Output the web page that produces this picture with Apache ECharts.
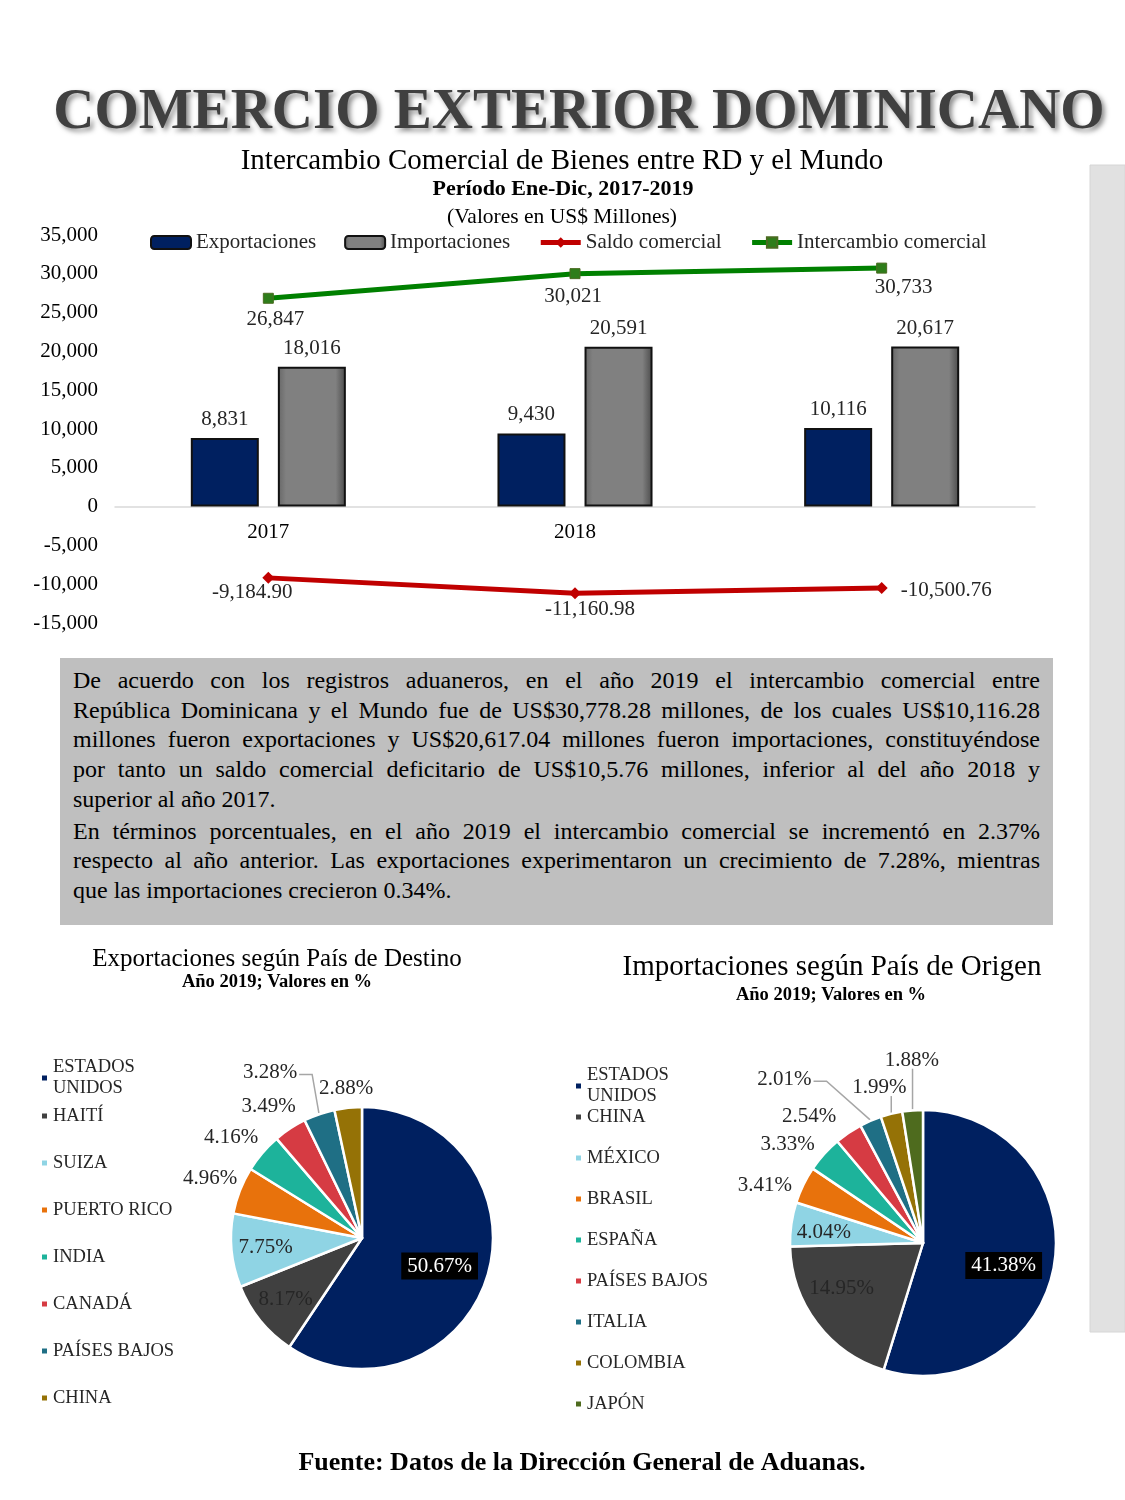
<!DOCTYPE html>
<html>
<head>
<meta charset="utf-8">
<script src="https://cdn.jsdelivr.net/npm/echarts@6/dist/echarts.min.js"></script>
<style>
html,body{margin:0;padding:0;background:#fff;}
#c{position:absolute;left:0;top:0;width:1125px;height:1500px;}
#txt{position:absolute;left:60px;top:658px;width:993px;height:267px;background:#bfbfbf;box-sizing:border-box;padding:8px 13px 0 13px;font-family:'Liberation Serif','Times New Roman',serif;font-size:24px;line-height:29.7px;color:#000;}
#txt .l{white-space:nowrap;text-align:justify;text-align-last:justify;}
#txt .e{white-space:nowrap;text-align:left;}
#txt .p2{margin-top:2px;}
</style>
</head>
<body>
<div id="c"></div>
<div id="txt">
<div class="l">De acuerdo con los registros aduaneros, en el año 2019 el intercambio comercial entre</div>
<div class="l">República Dominicana y el Mundo fue de US$30,778.28 millones, de los cuales US$10,116.28</div>
<div class="l">millones fueron exportaciones y US$20,617.04 millones fueron importaciones, constituyéndose</div>
<div class="l">por tanto un saldo comercial deficitario de US$10,5.76 millones, inferior al del año 2018 y</div>
<div class="e">superior al año 2017.</div>
<div class="l p2">En términos porcentuales, en el año 2019 el intercambio comercial se incrementó en 2.37%</div>
<div class="l">respecto al año anterior. Las exportaciones experimentaron un crecimiento de 7.28%, mientras</div>
<div class="e">que las importaciones crecieron 0.34%.</div>
</div>
<script>
// ---- Data ----
var years = ['2017', '2018', '2019'];
var exportaciones = [8831, 9430, 10116];
var importaciones = [18016, 20591, 20617];
var saldoComercial = [-9184.90, -11160.98, -10500.76];
var intercambioComercial = [26847, 30021, 30733];

var expCountries = ['ESTADOS UNIDOS', 'HAITÍ', 'SUIZA', 'PUERTO RICO', 'INDIA', 'CANADÁ', 'PAÍSES BAJOS', 'CHINA'];
var expShares = [50.67, 8.17, 7.75, 4.96, 4.16, 3.49, 3.28, 2.88];
var impCountries = ['ESTADOS UNIDOS', 'CHINA', 'MÉXICO', 'BRASIL', 'ESPAÑA', 'PAÍSES BAJOS', 'ITALIA', 'COLOMBIA', 'JAPÓN'];
var impShares = [41.38, 14.95, 4.04, 3.41, 3.33, 2.54, 2.01, 1.99, 1.88];

// ---- Styles / layout ----
var SERIF = "'Liberation Serif','Times New Roman',serif";
var sliceColors = ['#002060', '#404040', '#8fd4e4', '#e8720c', '#1db39b', '#d63b43', '#1f6f85', '#957206', '#4e6b1e'];
var fmtInt = function (v) { return Number(v).toLocaleString('en-US'); };
var fmt2 = function (v) { return Number(v).toLocaleString('en-US', {minimumFractionDigits: 2, maximumFractionDigits: 2}); };

// pie geometry and Excel-like label placement tweaks
// inside: [radius fraction, angle shift]; outside: [angle shift (deg), extra radial distance, leader line]
var pieGeom = {
  exp: {cx: 362, cy: 1238, r: 131, inside: [[0.63, 3], [0.75, 0], [0.74, 0]],
        adj: [null, null, null, [0, -3], [-3, 0], [-2, 0], [-10, 30, 1], [0, 0]]},
  imp: {cx: 923, cy: 1243, r: 133, inside: [[0.63, 7], [0.70, 8], [0.75, -2]],
        adj: [null, null, null, [-6, 0], [-6, 0], [-8, 5], [-17, 50, 1], [-2, 5, 1], [1, 32, 1]]}
};

var chart = echarts.init(document.getElementById('c'), null, {renderer: 'canvas'});

function pieData(names, vals, geom) {
  return names.map(function (n, i) {
    var item = {name: n, value: vals[i], itemStyle: {color: sliceColors[i]}};
    if (i === 0) {
      item.label = {position: 'inside', color: '#fff', backgroundColor: '#000', padding: [4, 6, 2, 6]};
    } else if (i < geom.inside.length) {
      item.label = {position: 'inside', color: '#262626'};
    } else {
      var withLine = !!geom.adj[i][2];
      item.label = {position: 'outside', color: '#262626'};
      item.labelLine = {show: withLine};
    }
    return item;
  });
}

function makeLabelLayout(vals, geom) {
  var total = vals.reduce(function (a, b) { return a + b; }, 0);
  return function (params) {
    var i = params.dataIndex;
    var before = 0;
    for (var k = 0; k < i; k++) before += vals[k];
    var mid = (before + vals[i] / 2) / total * 360;
    var w = params.labelRect.width, h = params.labelRect.height;
    if (i < geom.inside.length) {
      var a0 = (mid + geom.inside[i][1]) * Math.PI / 180, d0 = geom.inside[i][0] * geom.r;
      return {x: geom.cx + Math.sin(a0) * d0, y: geom.cy - Math.cos(a0) * d0, align: 'center', verticalAlign: 'middle'};
    }
    var adj = geom.adj[i];
    var a = (mid + adj[0]) * Math.PI / 180;
    var dx = Math.sin(a), dy = -Math.cos(a);
    var d = geom.r + Math.abs(dx) * w / 2 + Math.abs(dy) * h / 2 + 6 + adj[1];
    var lx = geom.cx + dx * d, ly = geom.cy + dy * d;
    var res = {x: lx, y: ly, align: 'center', verticalAlign: 'middle'};
    if (adj[2]) {
      var am = mid * Math.PI / 180;
      var ex = geom.cx + Math.sin(am) * (geom.r + 1), ey = geom.cy - Math.cos(am) * (geom.r + 1);
      if (Math.abs(dx) < 0.3) {
        res.labelLinePoints = [[ex, ey], [ex, ey], [ex, ly + h / 2 - 2]];
      } else {
        var rx = lx + w / 2 + 2;
        res.labelLinePoints = [[ex, ey], [rx + 13, ly + 2], [rx, ly + 2]];
      }
    }
    return res;
  };
}

function pieLegend(names, left, topA, topB, gap) {
  var d = names.map(function (n, i) { return {name: n, itemStyle: {color: sliceColors[i]}}; });
  var base = {
    orient: 'vertical', left: left, icon: 'rect', itemWidth: 7, itemHeight: 7,
    selectedMode: false, padding: 0,
    formatter: function (n) { return n === 'ESTADOS UNIDOS' ? 'ESTADOS\nUNIDOS' : n; }
  };
  var a = Object.assign({}, base, {top: topA, data: d.slice(0, 1), textStyle: {fontFamily: SERIF, fontSize: 18.5, color: '#262626', lineHeight: 21}});
  var b = Object.assign({}, base, {top: topB, itemGap: gap, data: d.slice(1), textStyle: {fontFamily: SERIF, fontSize: 18.5, color: '#262626', lineHeight: 20}});
  return [a, b];
}

var saldoLabelCfg = [
  {position: 'bottom', distance: 0, offset: [-16, -2]},
  {position: 'bottom', distance: 0, offset: [15, 0]},
  {position: 'right', distance: 13, offset: [0, 2]}
];
var interLabelCfg = [
  {position: 'bottom', distance: 5, offset: [7, 0]},
  {position: 'bottom', distance: 7, offset: [-2, 0]},
  {position: 'bottom', distance: 3, offset: [22, 0]}
];

function txt(x, y, s, font) {
  return {type: 'text', style: {x: x, y: y, text: s, textAlign: 'center', textVerticalAlign: 'middle', font: font, fill: '#000'}};
}

var option = {
  backgroundColor: '#fff',
  animation: false,
  graphic: [
    {type: 'rect', shape: {x: 1090, y: 165, width: 35, height: 1167}, style: {fill: '#e1e1e1', stroke: '#d6d6d6', lineWidth: 1}, z: -10},
    {type: 'text', z: 10, style: {x: 579, y: 113, text: 'COMERCIO EXTERIOR DOMINICANO', textAlign: 'center', textVerticalAlign: 'middle',
      font: 'bold 57px ' + SERIF, fill: '#404040', shadowColor: 'rgba(0,0,0,0.45)', shadowBlur: 5, shadowOffsetX: 3, shadowOffsetY: 3,
      textShadowColor: 'rgba(0,0,0,0.45)', textShadowBlur: 5, textShadowOffsetX: 3, textShadowOffsetY: 3}},
    txt(562, 161, 'Intercambio Comercial de Bienes entre RD y el Mundo', '29px ' + SERIF),
    txt(563, 189, 'Período Ene-Dic, 2017-2019', 'bold 22px ' + SERIF),
    txt(562, 217, '(Valores en US$ Millones)', '21.5px ' + SERIF),
    txt(277, 959, 'Exportaciones según País de Destino', '25px ' + SERIF),
    txt(277, 982, 'Año 2019; Valores en %', 'bold 18.5px ' + SERIF),
    txt(832, 967, 'Importaciones según País de Origen', '29px ' + SERIF),
    txt(831, 995, 'Año 2019; Valores en %', 'bold 18.5px ' + SERIF),
    txt(582, 1463, 'Fuente: Datos de la Dirección General de Aduanas.', 'bold 26px ' + SERIF)
  ],
  legend: [
    {
      left: 150, top: 232, itemGap: 28, itemWidth: 40, itemHeight: 13, selectedMode: false, padding: 0,
      textStyle: {fontFamily: SERIF, fontSize: 21, color: '#262626'},
      data: [
        {name: 'Exportaciones'},
        {name: 'Importaciones'},
        {name: 'Saldo comercial', lineStyle: {width: 5}},
        {name: 'Intercambio comercial', lineStyle: {width: 5}}
      ]
    }
  ].concat(pieLegend(expCountries, 40, 1057, 1106, 27)).concat(pieLegend(impCountries, 574, 1065, 1107, 21)),
  grid: {left: 115, right: 90, top: 235, bottom: 877, containLabel: false},
  xAxis: {
    type: 'category', data: years, offset: -116.4,
    axisLine: {onZero: false, lineStyle: {color: '#d9d9d9', width: 1.5}},
    axisTick: {show: false},
    axisLabel: {margin: 15, fontFamily: SERIF, fontSize: 21, color: '#000', interval: function (i) { return i < 2; }}
  },
  yAxis: {
    type: 'value', min: -15000, max: 35000, interval: 5000,
    splitLine: {show: false}, axisLine: {show: false}, axisTick: {show: false},
    axisLabel: {margin: 17, fontFamily: SERIF, fontSize: 21, color: '#000', formatter: fmtInt}
  },
  series: [
    {
      name: 'Exportaciones', type: 'bar', data: exportaciones, barWidth: 68, barGap: '28%',
      itemStyle: {color: '#002060', borderColor: '#111', borderWidth: 2},
      label: {show: true, position: 'top', distance: 8, fontFamily: SERIF, fontSize: 21, color: '#262626', formatter: function (p) { return fmtInt(p.value); }}
    },
    {
      name: 'Importaciones', type: 'bar', data: importaciones, barWidth: 68,
      itemStyle: {
        color: {type: 'linear', x: 0, y: 0, x2: 1, y2: 0, colorStops: [
          {offset: 0, color: '#666'}, {offset: 0.12, color: '#808080'}, {offset: 0.85, color: '#808080'}, {offset: 1, color: '#4a4a4a'}]},
        borderColor: '#111', borderWidth: 2
      },
      label: {show: true, position: 'top', distance: 8, fontFamily: SERIF, fontSize: 21, color: '#262626', formatter: function (p) { return fmtInt(p.value); }}
    },
    {
      name: 'Saldo comercial', type: 'line', z: 5,
      data: saldoComercial.map(function (v, i) { return {value: v, label: saldoLabelCfg[i]}; }),
      symbol: 'diamond', symbolSize: 12, lineStyle: {color: '#c00000', width: 5}, itemStyle: {color: '#c00000'},
      label: {show: true, fontFamily: SERIF, fontSize: 21, color: '#262626', formatter: function (p) { return fmt2(p.value); }}
    },
    {
      name: 'Intercambio comercial', type: 'line', z: 5,
      data: intercambioComercial.map(function (v, i) { return {value: v, label: interLabelCfg[i]}; }),
      symbol: 'rect', symbolSize: 10, lineStyle: {color: '#008000', width: 5}, itemStyle: {color: '#2e7d1a', borderColor: '#4a6b20', borderWidth: 1},
      label: {show: true, fontFamily: SERIF, fontSize: 21, color: '#262626', formatter: function (p) { return fmtInt(p.value); }}
    },
    {
      name: 'Exportaciones por destino', type: 'pie', center: [pieGeom.exp.cx, pieGeom.exp.cy], radius: pieGeom.exp.r,
      startAngle: 90, clockwise: true, avoidLabelOverlap: false,
      itemStyle: {borderColor: '#fff', borderWidth: 2.5},
      label: {fontFamily: SERIF, fontSize: 21, formatter: function (p) { return p.value.toFixed(2) + '%'; }},
      labelLine: {lineStyle: {color: '#a6a6a6', width: 1.5}},
      labelLayout: makeLabelLayout(expShares, pieGeom.exp),
      data: pieData(expCountries, expShares, pieGeom.exp)
    },
    {
      name: 'Importaciones por origen', type: 'pie', center: [pieGeom.imp.cx, pieGeom.imp.cy], radius: pieGeom.imp.r,
      startAngle: 90, clockwise: true, avoidLabelOverlap: false,
      itemStyle: {borderColor: '#fff', borderWidth: 2.5},
      label: {fontFamily: SERIF, fontSize: 21, formatter: function (p) { return p.value.toFixed(2) + '%'; }},
      labelLine: {lineStyle: {color: '#a6a6a6', width: 1.5}},
      labelLayout: makeLabelLayout(impShares, pieGeom.imp),
      data: pieData(impCountries, impShares, pieGeom.imp)
    }
  ]
};
chart.setOption(option);
</script>
</body>
</html>
